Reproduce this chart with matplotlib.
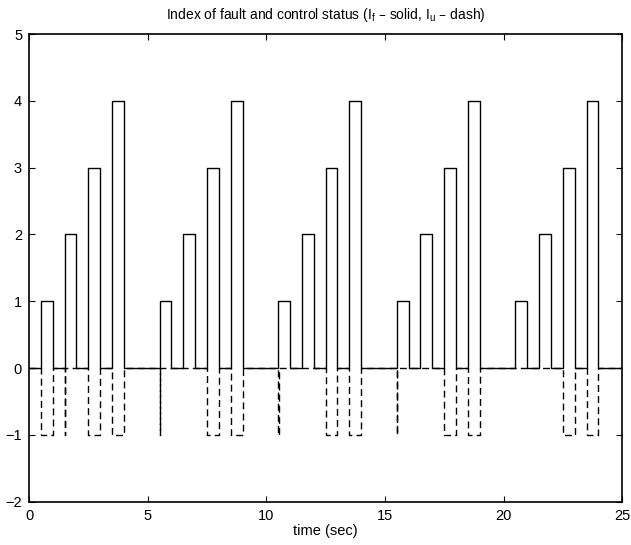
## Index of fault and control status ##

import matplotlib
matplotlib.use("Agg")
import matplotlib.pyplot as plt

plt.rcParams['font.family'] = ['Liberation Sans', 'DejaVu Sans']
plt.rcParams['mathtext.default'] = 'regular'

## DATA (step breakpoints, value holds until next time) ##
t_f = [0, 0.5, 1.0, 1.5, 2.0, 2.5, 3.0, 3.5, 4.0,
       5.5, 6.0, 6.5, 7.0, 7.5, 8.0, 8.5, 9.0,
       10.5, 11.0, 11.5, 12.0, 12.5, 13.0, 13.5, 14.0,
       15.5, 16.0, 16.5, 17.0, 17.5, 18.0, 18.5, 19.0,
       20.5, 21.0, 21.5, 22.0, 22.5, 23.0, 23.5, 24.0, 25.0]
I_f = [0, 1, 0, 2, 0, 3, 0, 4, 0,
       1, 0, 2, 0, 3, 0, 4, 0,
       1, 0, 2, 0, 3, 0, 4, 0,
       1, 0, 2, 0, 3, 0, 4, 0,
       1, 0, 2, 0, 3, 0, 4, 0, 0]

t_u = [0, 0.5, 1.0, 1.5, 1.52, 2.5, 3.0, 3.5, 4.0,
       5.5, 5.52, 7.5, 8.0, 8.5, 9.0,
       10.5, 10.52, 12.5, 13.0, 13.5, 14.0,
       15.5, 15.52, 17.5, 18.0, 18.5, 19.0,
       22.5, 23.0, 23.5, 24.0, 25.0]
I_u = [0, -1, 0, -1, 0, -1, 0, -1, 0,
       -1, 0, -1, 0, -1, 0,
       -1, 0, -1, 0, -1, 0,
       -1, 0, -1, 0, -1, 0,
       -1, 0, -1, 0, 0]

x_ticks = [0, 5, 10, 15, 20, 25]
y_ticks = [-2, -1, 0, 1, 2, 3, 4, 5]

fig = plt.figure(figsize=(6.31, 5.45), dpi=100)
ax = fig.add_axes([0.046, 0.0795, 0.94, 0.858])

ax.step(t_u, I_u, where='post', color='black', lw=1.0, linestyle=(0, (5, 3)))
ax.step(t_f, I_f, where='post', color='black', lw=1.0)

ax.set_xlim(0, 25)
ax.set_ylim(-2, 5)
ax.set_xticks(x_ticks)
ax.set_yticks(y_ticks)
ax.tick_params(direction='in', length=4, width=0.8, top=True, right=True, labelsize=10.5, pad=5)
for s in ax.spines.values():
    s.set_linewidth(1.2)

ax.set_title("Index of fault and control status (I$_f$ – solid, I$_u$ – dash)", fontsize=10, pad=11)
ax.set_xlabel("time (sec)", fontsize=10.5, labelpad=1)

fig.savefig("out.png", dpi=100)
